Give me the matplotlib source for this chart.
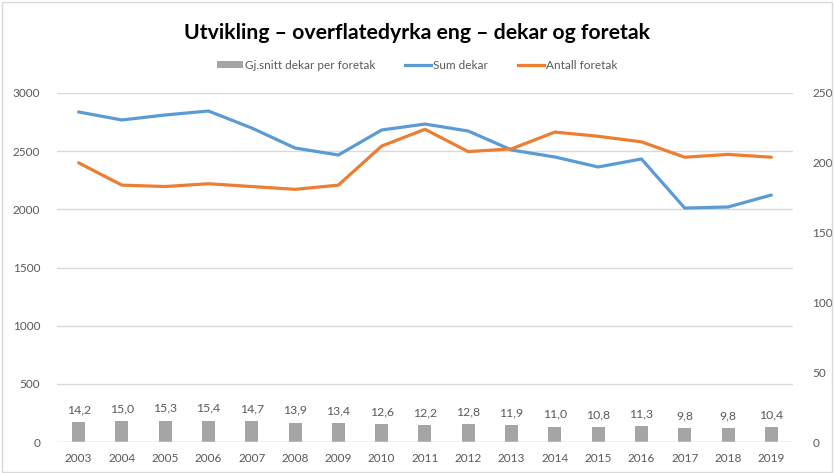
import matplotlib
matplotlib.use("Agg")
import matplotlib.pyplot as plt
from matplotlib.lines import Line2D
from matplotlib.patches import Patch, Rectangle

years = ["2003", "2004", "2005", "2006", "2007", "2008", "2009", "2010", "2011",
         "2012", "2013", "2014", "2015", "2016", "2017", "2018", "2019"]
snitt = [14.2, 15.0, 15.3, 15.4, 14.7, 13.9, 13.4, 12.6, 12.2, 12.8, 11.9, 11.0,
         10.8, 11.3, 9.8, 9.8, 10.4]
sum_dekar = [2837, 2768, 2811, 2845, 2699, 2527, 2467, 2682, 2733, 2673, 2510, 2450,
             2364, 2433, 2011, 2020, 2123]
antall = [200, 184, 183, 185, 183, 181, 184, 212, 224, 208, 210, 222, 219, 215,
          204, 206, 204]

plt.rcParams['font.family'] = ['Lato', 'DejaVu Sans']
txt = '#595959'
grid = '#D9D9D9'
c_bar = '#A5A5A5'
c_blue = '#5B9BD5'
c_orange = '#ED7D31'

fig = plt.figure(figsize=(8.34, 4.73), dpi=100)
fig.patches.append(Rectangle((0.002, 0.002), 0.996, 0.994, transform=fig.transFigure,
                             fill=False, edgecolor=grid, linewidth=1))
ax = fig.add_axes([0.0683, 0.0655, 0.8825, 0.7379])
ax2 = ax.twinx()

x = list(range(len(years)))

ax.set_zorder(ax2.get_zorder() + 1)
ax.patch.set_visible(False)

ax.set_ylim(0, 3000)
ax.set_yticks(range(0, 3001, 500))
ax2.set_ylim(0, 250)
ax2.set_yticks(range(0, 251, 50))
ax.set_xlim(-0.5, len(years) - 0.5)

ax.grid(axis='y', color=grid, linewidth=1)
ax.set_axisbelow(True)

ax2.bar(x, snitt, width=0.3, color=c_bar, zorder=2)
for xi, v in zip(x, snitt):
    ax2.annotate(f"{v:.1f}".replace('.', ','), (xi, v), xytext=(0, 5),
                 textcoords='offset points', ha='center', va='bottom',
                 fontsize=8.8, color=txt)
ax.plot(x, sum_dekar, color=c_blue, linewidth=2.3, solid_capstyle='round', zorder=3)
ax.plot(x, antall, color=c_orange, linewidth=2.3, solid_capstyle='round', zorder=4,
        transform=ax2.transData)

ax.set_xticks(x)
ax.set_xticklabels(years)
for a in (ax, ax2):
    for s in a.spines.values():
        s.set_visible(False)
    a.tick_params(length=0, colors=txt, labelsize=8.5)
ax.tick_params(axis='y', pad=12)
ax2.tick_params(axis='y', pad=14)
ax.tick_params(axis='x', pad=8)
ax.axhline(0, color=grid, linewidth=1, zorder=1)
ax.set_ylim(0, 3000)

fig.text(0.5, 0.93, "Utvikling \u2013 overflatedyrka eng \u2013 dekar og foretak",
         ha='center', va='center', fontsize=15.3, fontweight='bold', color='black')

handles = [Patch(facecolor=c_bar, edgecolor='none'),
           Line2D([0], [0], color=c_blue, linewidth=2.3),
           Line2D([0], [0], color=c_orange, linewidth=2.3)]
labels = ["Gj.snitt dekar per foretak", "Sum dekar", "Antall foretak"]
fig.legend(handles, labels, loc='center', bbox_to_anchor=(0.5, 0.862), ncol=3,
           frameon=False, fontsize=8.5, labelcolor=txt, handlelength=2.2,
           handletextpad=0.2, columnspacing=2.5, handleheight=0.6)

fig.savefig("out.png", dpi=100)
